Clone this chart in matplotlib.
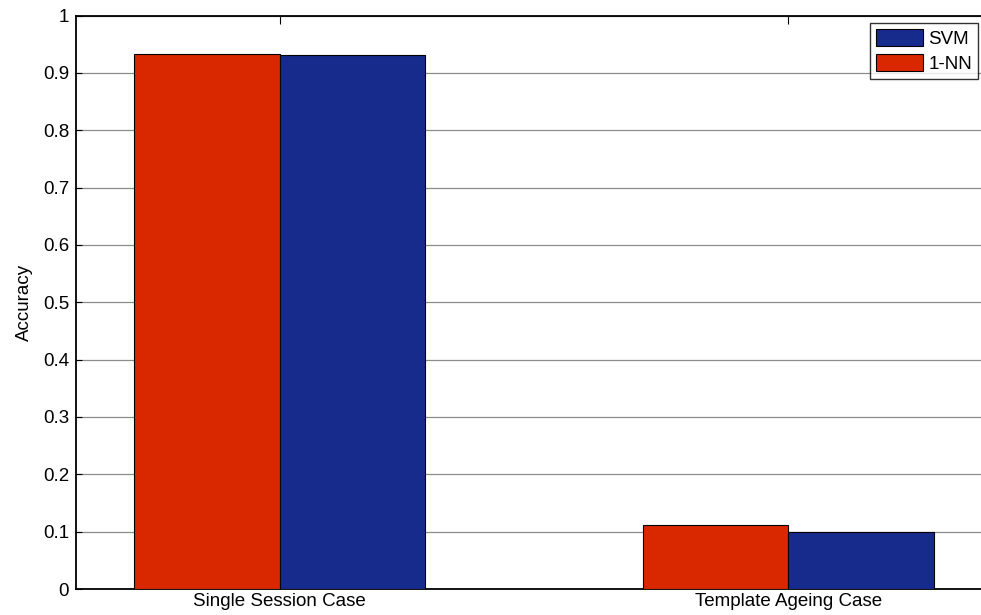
import matplotlib
matplotlib.use("Agg")
import matplotlib.pyplot as plt
import numpy as np

plt.rcParams['font.family'] = ['Liberation Sans', 'DejaVu Sans']

categories = ["Single Session Case", "Template Ageing Case"]
series_names = ["1-NN", "SVM"]
acc_1nn = [0.933, 0.111]
acc_svm = [0.931, 0.100]
yticks = [0, 0.1, 0.2, 0.3, 0.4, 0.5, 0.6, 0.7, 0.8, 0.9, 1]
ytick_labels = ["0", "0.1", "0.2", "0.3", "0.4", "0.5", "0.6", "0.7", "0.8", "0.9", "1"]

red = "#d92800"
blue = "#162b8c"
fs = 13.5

W, H = 981, 615
fig = plt.figure(figsize=(W / 100, H / 100), dpi=100)
ax = fig.add_axes([76 / W, (H - 589) / H, (992 - 76) / W, (589 - 15.5) / H])

x = np.arange(1, len(categories) + 1)
bw = 0.2857
ax.bar(x - bw / 2, acc_1nn, width=bw, color=red, edgecolor="black", linewidth=0.8,
       label=series_names[0], zorder=3)
ax.bar(x + bw / 2, acc_svm, width=bw, color=blue, edgecolor="black", linewidth=0.8,
       label=series_names[1], zorder=3)

ax.set_xlim(0.6, 2.4)
ax.set_ylim(0, 1)
ax.set_xticks(x)
ax.set_xticklabels(categories, fontsize=fs)
ax.set_yticks(yticks)
ax.set_yticklabels(ytick_labels, fontsize=fs)
ax.set_ylabel("Accuracy", fontsize=fs, labelpad=7)

ax.yaxis.grid(True, color="#8c8c8c", linewidth=0.9, zorder=0)
ax.set_axisbelow(True)
ax.tick_params(axis="y", direction="in", length=4, width=0.8, pad=5, left=True, right=False)
ax.tick_params(axis="x", direction="in", length=6, width=0.8, pad=3, top=True, bottom=True)

for s in ["left", "bottom", "top"]:
    ax.spines[s].set_linewidth(1.3)
    ax.spines[s].set_color("black")
ax.spines["right"].set_visible(False)

handles, labels = ax.get_legend_handles_labels()
leg = fig.legend([handles[1], handles[0]], [labels[1], labels[0]],
                 loc="upper left", bbox_to_anchor=(870 / W, 1 - 23 / H),
                 bbox_transform=fig.transFigure, fontsize=fs, frameon=True,
                 fancybox=False, edgecolor="black", borderpad=0.32,
                 handlelength=2.5, handleheight=1.0, handletextpad=0.3,
                 labelspacing=0.33, borderaxespad=0)
leg.get_frame().set_linewidth(1.0)

fig.savefig("out.png", dpi=100)
